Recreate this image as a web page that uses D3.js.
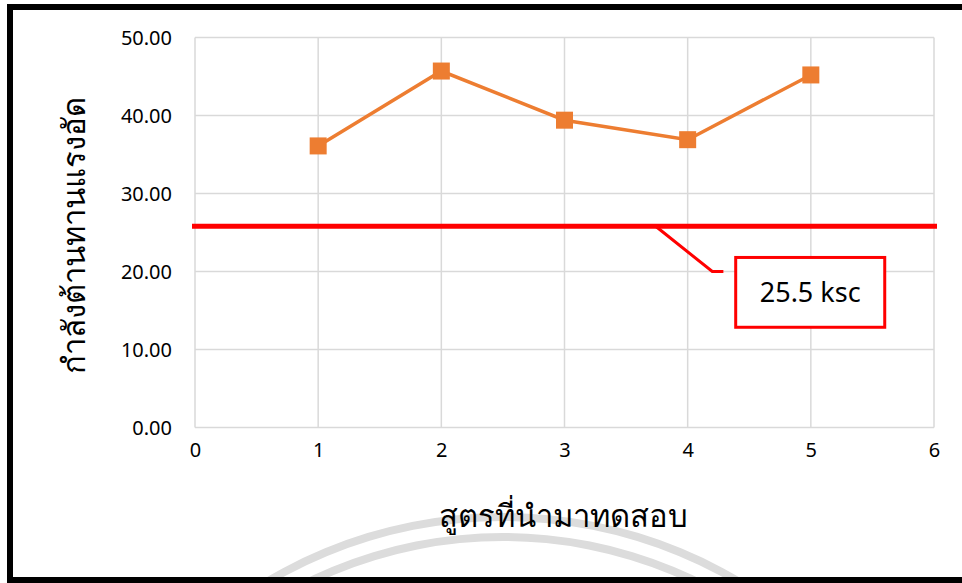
<!DOCTYPE html>
<html>
<head>
<meta charset="utf-8">
<script src="https://cdn.jsdelivr.net/npm/d3@7"></script>
<style>
	html, body { margin: 0; padding: 0; background: #fff; }
	svg { display: block; }
	text { font-family: "Noto Sans", "Open Sans", sans-serif; fill: #000; }
</style>
</head>
<body>
<svg id="chart" width="962" height="583"></svg>
<script>
;(() => {
	'use strict';

	// values
	const formulas = [1, 2, 3, 4, 5],
		strengths = [36.1, 45.7, 39.4, 36.9, 45.2],
		xTicks = [0, 1, 2, 3, 4, 5, 6],
		yTicks = [0, 10, 20, 30, 40, 50],
		limitValue = 25.8,
		limitLabel = '25.5 ksc',
		xTitle = 'สูตรที่นำมาทดสอบ',
		yTitle = 'กำลังต้านทานแรงอัด';

	const width = 962,
		height = 583,
		margin = {top: 37.5, right: 28, bottom: 155.5, left: 195},
		gridColor = '#d9d9d9',
		lineColor = '#ed7d31',
		limitColor = '#ff0000';

	const svg = d3.select('#chart');

	const x = d3.scaleLinear().domain([0, 6]).range([margin.left, width - margin.right]),
		y = d3.scaleLinear().domain([0, 50]).range([height - margin.bottom, margin.top]);

	// watermark arcs behind everything
	const arc = d3.arc().startAngle(-Math.PI / 2).endAngle(Math.PI / 2);
	const wm = svg.append('g').attr('transform', 'translate(503,980)');
	[463, 443].forEach((r) => {
		wm.append('path')
			.attr('d', arc({innerRadius: r - 4, outerRadius: r + 4}))
			.attr('fill', '#dcdcdc');
	});

	// gridlines
	svg.append('g')
		.selectAll('line.vgrid')
		.data(xTicks)
		.enter()
		.append('line')
		.attr('x1', (d) => x(d)).attr('x2', (d) => x(d))
		.attr('y1', y(0)).attr('y2', y(50))
		.attr('stroke', gridColor)
		.attr('stroke-width', 1.5);

	svg.append('g')
		.selectAll('line.hgrid')
		.data(yTicks)
		.enter()
		.append('line')
		.attr('x1', x(0)).attr('x2', x(6))
		.attr('y1', (d) => y(d)).attr('y2', (d) => y(d))
		.attr('stroke', gridColor)
		.attr('stroke-width', 1.5);

	// axes (labels only)
	const yAxis = svg.append('g')
		.attr('transform', `translate(${x(0) - 23},0)`)
		.call(d3.axisLeft(y).tickValues(yTicks).tickSize(0).tickFormat(d3.format('.2f')));
	const xAxis = svg.append('g')
		.attr('transform', `translate(0,${y(0) + 22})`)
		.call(d3.axisBottom(x).tickValues(xTicks).tickSize(0).tickFormat(d3.format('d')));
	[yAxis, xAxis].forEach((g) => {
		g.select('.domain').remove();
		g.selectAll('text')
			.style('font-size', '20px')
			.attr('fill', '#000');
	});
	yAxis.selectAll('text').attr('x', 0).attr('dy', '0.35em');
	xAxis.selectAll('text').attr('y', 0).attr('dy', '0.35em');

	// limit line
	svg.append('line')
		.attr('x1', x(0) - 3).attr('x2', x(6) + 3)
		.attr('y1', y(limitValue)).attr('y2', y(limitValue))
		.attr('stroke', limitColor)
		.attr('stroke-width', 5);

	// callout
	const leader = [[3.74, limitValue], [4.2, 20.0], [4.29, 20.0]];
	svg.append('path')
		.attr('d', d3.line().x((d) => x(d[0])).y((d) => y(d[1]))(leader))
		.attr('fill', 'none')
		.attr('stroke', limitColor)
		.attr('stroke-width', 3);

	const box = {x0: 4.39, x1: 5.6, y0: 21.8, y1: 12.85};
	svg.append('rect')
		.attr('x', x(box.x0)).attr('y', y(box.y0))
		.attr('width', x(box.x1) - x(box.x0))
		.attr('height', y(box.y1) - y(box.y0))
		.attr('fill', '#fff')
		.attr('stroke', limitColor)
		.attr('stroke-width', 3);
	svg.append('text')
		.attr('x', x((box.x0 + box.x1) / 2))
		.attr('y', y((box.y0 + box.y1) / 2))
		.attr('dy', '0.35em')
		.attr('text-anchor', 'middle')
		.style('font-size', '27px')
		.text(limitLabel);

	// series
	svg.append('path')
		.datum(formulas)
		.attr('d', d3.line().x((d) => x(d)).y((d, i) => y(strengths[i])))
		.attr('fill', 'none')
		.attr('stroke', lineColor)
		.attr('stroke-width', 3.5);

	svg.append('g')
		.selectAll('rect')
		.data(formulas)
		.enter()
		.append('rect')
		.attr('x', (d) => x(d) - 8.5)
		.attr('y', (d, i) => y(strengths[i]) - 8.5)
		.attr('width', 17).attr('height', 17)
		.attr('fill', lineColor);

	// titles
	svg.append('text')
		.attr('x', (x(0) + x(6)) / 2 - 1)
		.attr('y', 516)
		.attr('dy', '0.35em')
		.attr('text-anchor', 'middle')
		.style('font-size', '31px')
		.style('font-weight', 300)
		.text(xTitle);

	svg.append('text')
		.attr('transform', `translate(74,${(y(0) + y(50)) / 2 + 3}) rotate(-90)`)
		.attr('dy', '0.35em')
		.attr('text-anchor', 'middle')
		.style('font-size', '31px')
		.style('font-weight', 300)
		.text(yTitle);

	// frame
	svg.append('path')
		.attr('d', `M${width + 10},7 H10 V580 H${width + 10}`)
		.attr('fill', 'none')
		.attr('stroke', '#000')
		.attr('stroke-width', 6);
})();
</script>
</body>
</html>
